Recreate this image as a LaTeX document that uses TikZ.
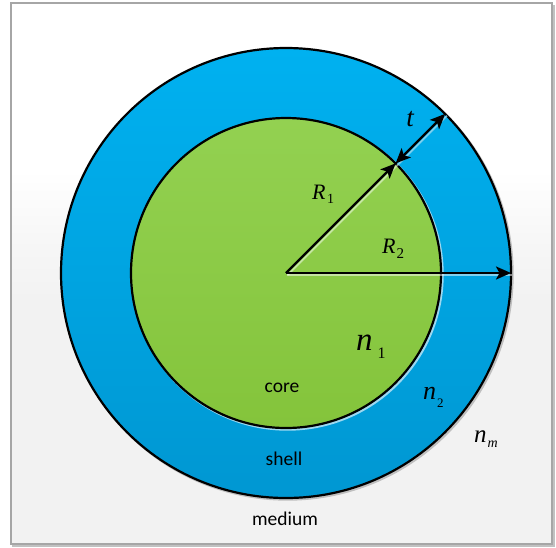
\documentclass[tikz,border=0pt]{standalone}
\usepackage{fontspec}
\setmainfont{Liberation Serif}
\newfontfamily\carlito{Carlito}
\usetikzlibrary{arrows.meta}
\definecolor{shelltop}{HTML}{00B1F0}
\definecolor{shellbot}{HTML}{0097D2}
\definecolor{coretop}{HTML}{93D151}
\definecolor{corebot}{HTML}{84C43B}
\definecolor{framegray}{HTML}{A6A6A6}
\definecolor{bggray}{HTML}{F2F2F2}
\definecolor{glow}{HTML}{9DD8F0}
\tikzset{
  ring/.style={circle, draw=black, line width=2.2pt, inner sep=0pt, outer sep=0pt},
  arr/.style={line width=2.3pt, -{Stealth[length=15pt,width=13pt,inset=3.5pt]}},
  darr/.style={line width=2.3pt, {Stealth[length=15pt,width=13pt,inset=3.5pt]}-{Stealth[length=15pt,width=13pt,inset=3.5pt]}},
  glowline/.style={line width=1.8pt, draw=glow, opacity=0.8},
  word/.style={font=\carlito\fontsize{19.5}{20}\selectfont, inner sep=0pt},
  sym/.style={inner sep=0pt}
}
\begin{document}
\begin{tikzpicture}[x=1pt,y=-1pt]
\useasboundingbox (0,0) rectangle (556,547);
% background
\fill[white] (0,0) rectangle (556,547);
\fill[white] (11,3) rectangle (552,182);
\shade[top color=white, bottom color=bggray, middle color=bggray!60] (11,170) rectangle (552,300);
\fill[bggray] (11,300) rectangle (552,544);
\draw[framegray!70, line width=2.4pt] (553.5,5) -- (553.5,545.5) -- (12,545.5);
\draw[framegray, line width=1.2pt] (11,3) rectangle (552,544);
\coordinate (O) at (286,273);
% shadows of circles
\draw[black!25, line width=2.4pt] (287.5,274.5) circle (225);
% outer shell
\node[ring, minimum size=450pt, top color=shelltop, bottom color=shellbot] (outer) at (O) {};
% glow of core
\draw[glow, line width=2.4pt] (287.5,274.5) circle (155);
% core
\node[ring, minimum size=310pt, top color=coretop, bottom color=corebot] (inner) at (O) {};
% arrow glows
\draw[glowline, white, opacity=0.5] ([shift={(1.8,1.8)}]O) -- ([shift={(1.8,1.8)}]inner.45);
\draw[glowline, white, opacity=0.5] ([shift={(1,2.2)}]O) -- ([shift={(1,2.2)}]outer.east);
\draw[glowline] ([shift={(1.8,1.8)}]inner.45) -- ([shift={(1.8,1.8)}]outer.45);
% arrows
\draw[arr] (O) -- (inner.45);
\draw[arr] (O) -- (outer.east);
\draw[darr] (inner.45) -- (outer.45);
% labels
\node[sym, font=\fontsize{27}{27}\selectfont\itshape] (t) at (410,119) {t};
\node[sym, anchor=base west] (R1) at (312,199) {\fontsize{22}{22}\selectfont\itshape R\hspace{1.5pt}\raisebox{-4pt}{\fontsize{14}{14}\selectfont\upshape 1}};
\node[sym, anchor=base west] (R2) at (382,253) {\fontsize{22}{22}\selectfont\itshape R\hspace{1pt}\raisebox{-5pt}{\fontsize{15}{15}\selectfont\upshape 2}};
\node[sym, anchor=base west] (n1) at (356,350) {\fontsize{33}{33}\selectfont\itshape n\hspace{5pt}\raisebox{-8pt}{\fontsize{16}{16}\selectfont\upshape 1}};
\node[sym, anchor=base west] (n2) at (423,399) {\fontsize{26}{26}\selectfont\itshape n\hspace{1pt}\raisebox{-8pt}{\fontsize{13}{13}\selectfont\upshape 2}};
\node[sym, anchor=base west] (nm) at (474,442) {\fontsize{25}{25}\selectfont\itshape n\hspace{1pt}\raisebox{-5pt}{\fontsize{14}{14}\selectfont m}};
\node[word] (core) at (282,388) {core};
\node[word] (shell) at (284,459) {shell};
\node[word] (medium) at (285,519) {medium};
\end{tikzpicture}
\end{document}
